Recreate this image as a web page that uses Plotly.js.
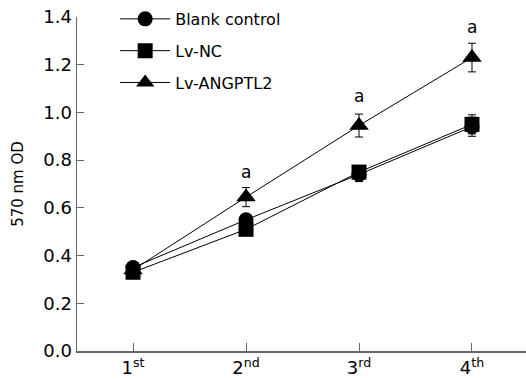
<!DOCTYPE html>
<html>
<head>
<meta charset="utf-8">
<script src="https://cdn.plot.ly/plotly-3.0.1.min.js"></script>
<style>html,body{margin:0;padding:0;background:#fff}#chart{width:526px;height:380px}</style>
</head>
<body>
<div id="chart"></div>
<script>
var days = [1, 2, 3, 4];
var dayLabels = ['1<sup>st</sup>', '2<sup>nd</sup>', '3<sup>rd</sup>', '4<sup>th</sup>'];
var blankControl = [0.35, 0.55, 0.74, 0.94];
var blankErr = [0.01, 0.02, 0.03, 0.04];
var lvNC = [0.33, 0.51, 0.75, 0.95];
var lvNCErr = [0.01, 0.02, 0.02, 0.04];
var lvANGPTL2 = [0.34, 0.645, 0.945, 1.23];
var lvANGPTL2Err = [0.01, 0.04, 0.048, 0.06];
var sigX = [2, 3, 4];
var sigY = [0.75, 1.07, 1.36];
var sigText = ['a', 'a', 'a'];

function trace(name, y, err, symbol, size, grp) {
  return {
    x: days, y: y, name: name, type: 'scatter', mode: 'lines+markers',
    legendgroup: grp,
    line: {color: '#000', width: 1},
    marker: {color: '#000', symbol: symbol, size: size},
    error_y: {type: 'data', array: err, visible: true, color: '#000', thickness: 1, width: 4}
  };
}
var data = [
  trace('Blank control', blankControl, blankErr, 'circle', 15, 'g1'),
  trace('Lv-NC', lvNC, lvNCErr, 'square', 15, 'g2'),
  trace('Lv-ANGPTL2', lvANGPTL2, lvANGPTL2Err, 'triangle-up', 17, 'g3')
];
var annotations = sigX.map(function (x, i) {
  return {x: x, y: sigY[i], text: sigText[i], showarrow: false, xref: 'x', yref: 'y',
          font: {family: 'DejaVu Sans, Verdana, sans-serif', size: 17, color: '#000'}};
});
var layout = {
  width: 526, height: 380,
  margin: {l: 77, r: 0, t: 17, b: 29},
  paper_bgcolor: '#fff', plot_bgcolor: '#fff',
  font: {family: 'DejaVu Sans, Verdana, sans-serif', size: 16, color: '#000'},
  showlegend: true,
  legend: {x: 0.085, y: 1.045, xanchor: 'left', yanchor: 'top', bgcolor: 'rgba(0,0,0,0)',
           font: {size: 16}, tracegroupgap: 8, itemwidth: 50},
  xaxis: {
    range: [0.504, 4.478], tickmode: 'array', tickvals: days, ticktext: dayLabels,
    showline: true, linecolor: '#666', linewidth: 1.5, ticks: 'inside', ticklen: 8,
    tickcolor: '#666', showgrid: false, zeroline: false, fixedrange: true,
    tickfont: {size: 18}
  },
  yaxis: {
    range: [0, 1.4], tickvals: [0, 0.2, 0.4, 0.6, 0.8, 1.0, 1.2, 1.4],
    ticktext: ['0.0', '0.2', '0.4', '0.6', '0.8', '1.0', '1.2', '1.4'],
    showline: true, linecolor: '#666', linewidth: 1.5, ticks: 'inside', ticklen: 7,
    tickcolor: '#666', showgrid: false, zeroline: false, fixedrange: true,
    title: {text: '570 nm OD', font: {size: 15}, standoff: 16},
    tickfont: {size: 18}
  },
  annotations: annotations
};
Plotly.newPlot('chart', data, layout, {displayModeBar: false, staticPlot: true});
</script>
</body>
</html>
